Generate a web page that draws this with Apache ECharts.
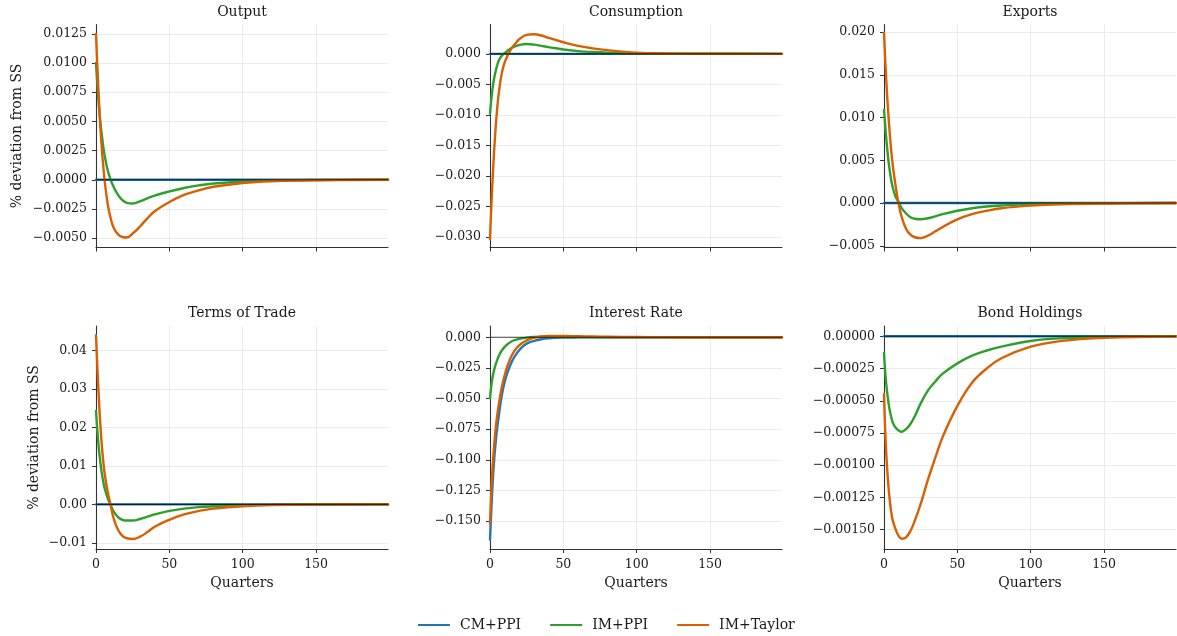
<!DOCTYPE html>
<html>
<head>
<meta charset="utf-8">
<script src="https://cdn.jsdelivr.net/npm/echarts@6/dist/echarts.min.js"></script>
<style>
  html, body { margin: 0; padding: 0; background: #ffffff; }
  #chart { width: 1177px; height: 636px; }
</style>
</head>
<body>
<div id="chart"></div>
<script>
// Impulse responses, % deviation from steady state, sampled by quarter
const quarters = [0, 1, 2, 3, 4, 5, 6, 8, 10, 12, 15, 18, 21, 25, 30, 35, 40, 50, 60, 70, 80, 100, 120, 150, 199];
const seriesNames = ['CM+PPI', 'IM+PPI', 'IM+Taylor'];
const panelTitles = ['Output', 'Consumption', 'Exports', 'Terms of Trade', 'Interest Rate', 'Bond Holdings'];
const xTicks = [0, 50, 100, 150];

const outputCM = [0, 0, 0, 0, 0, 0, 0, 0, 0, 0, 0, 0, 0, 0, 0, 0, 0, 0, 0, 0, 0, 0, 0, 0, 0];
const outputIM = [0.0100, 0.0080, 0.0063, 0.0049, 0.0038, 0.0028, 0.0020, 0.0008, 0.0000, -0.0006, -0.0013, -0.00175, -0.00198, -0.00203, -0.00185, -0.00159, -0.00135, -0.0010, -0.0007, -0.00048, -0.00032, -0.00015, -0.00007, -0.00002, 0];
const outputTaylor = [0.0125, 0.0095, 0.0068, 0.0045, 0.0026, 0.0011, -0.0002, -0.0021, -0.0033, -0.0041, -0.00467, -0.0049, -0.00494, -0.0046, -0.0040, -0.0033, -0.0027, -0.0019, -0.0013, -0.0009, -0.0006, -0.00027, -0.00012, -0.00004, 0];

const consCM = [0, 0, 0, 0, 0, 0, 0, 0, 0, 0, 0, 0, 0, 0, 0, 0, 0, 0, 0, 0, 0, 0, 0, 0, 0];
const consIM = [-0.0098, -0.0072, -0.0052, -0.0038, -0.0027, -0.0018, -0.0011, -0.0003, 0.0001, 0.0005, 0.0010, 0.0013, 0.0015, 0.0016, 0.0015, 0.0013, 0.0011, 0.0007, 0.00045, 0.0003, 0.0002, 0.00008, 0.00003, 0.00001, 0];
const consTaylor = [-0.0303, -0.0245, -0.0195, -0.0152, -0.0116, -0.0087, -0.0064, -0.0032, -0.0014, -0.0003, 0.0010, 0.0019, 0.0026, 0.0031, 0.0032, 0.0030, 0.0026, 0.0019, 0.0013, 0.0009, 0.0006, 0.0002, 0.00008, 0.00002, 0];

const exportsCM = [0, 0, 0, 0, 0, 0, 0, 0, 0, 0, 0, 0, 0, 0, 0, 0, 0, 0, 0, 0, 0, 0, 0, 0, 0];
const exportsIM = [0.0109, 0.0087, 0.0067, 0.0050, 0.0037, 0.0026, 0.0018, 0.0007, 0.0001, -0.0006, -0.0012, -0.00165, -0.00184, -0.0019, -0.00178, -0.00155, -0.0013, -0.0009, -0.0006, -0.0004, -0.00028, -0.00012, -0.00005, -0.00002, 0];
const exportsTaylor = [0.0199, 0.0162, 0.0130, 0.0103, 0.0080, 0.0060, 0.0044, 0.0019, -0.0001, -0.0016, -0.0030, -0.0037, -0.0040, -0.0041, -0.0038, -0.0033, -0.0028, -0.0019, -0.0013, -0.0009, -0.0006, -0.0003, -0.00014, -0.00005, 0];

const totCM = [0, 0, 0, 0, 0, 0, 0, 0, 0, 0, 0, 0, 0, 0, 0, 0, 0, 0, 0, 0, 0, 0, 0, 0, 0];
const totIM = [0.0243, 0.0188, 0.0143, 0.0108, 0.0080, 0.0058, 0.0040, 0.0016, -0.0002, -0.0018, -0.0033, -0.0040, -0.0042, -0.0042, -0.0038, -0.0032, -0.0026, -0.0017, -0.0011, -0.0007, -0.0005, -0.0002, -0.0001, -0.00003, 0];
const totTaylor = [0.0440, 0.0350, 0.0272, 0.0205, 0.0152, 0.0110, 0.0077, 0.0032, -0.0002, -0.0036, -0.0066, -0.0082, -0.0088, -0.0090, -0.0084, -0.0072, -0.0058, -0.0040, -0.0026, -0.0017, -0.0011, -0.0005, -0.0002, -0.00006, 0];

const rateCM = [-0.165, -0.138, -0.115, -0.0975, -0.084, -0.073, -0.064, -0.0475, -0.0365, -0.0285, -0.0195, -0.0135, -0.0090, -0.0052, -0.0030, -0.0016, -0.0009, -0.0003, -0.0001, 0, 0, 0, 0, 0, 0];
const rateIM = [-0.0496, -0.0385, -0.0310, -0.0258, -0.0218, -0.0183, -0.0153, -0.0108, -0.0078, -0.0056, -0.0032, -0.0019, -0.0010, -0.0003, 0.0002, 0.0004, 0.0004, 0.0003, 0.0002, 0.0001, 0.00005, 0, 0, 0, 0];
const rateTaylor = [-0.152, -0.122, -0.101, -0.086, -0.073, -0.063, -0.055, -0.041, -0.031, -0.023, -0.0145, -0.0090, -0.0055, -0.0025, -0.0003, 0.0006, 0.0010, 0.0010, 0.0008, 0.0006, 0.0004, 0.0002, 0.0001, 0, 0];

const bondsCM = [0, 0, 0, 0, 0, 0, 0, 0, 0, 0, 0, 0, 0, 0, 0, 0, 0, 0, 0, 0, 0, 0, 0, 0, 0];
const bondsIM = [-0.00013, -0.00030, -0.00042, -0.00051, -0.00058, -0.00063, -0.00067, -0.00071, -0.00073, -0.00074, -0.00072, -0.00068, -0.00062, -0.00052, -0.00042, -0.00035, -0.00029, -0.00021, -0.00015, -0.00011, -0.00008, -0.000036, -0.000016, -0.000005, 0];
const bondsTaylor = [-0.00045, -0.00078, -0.00100, -0.00116, -0.00128, -0.00137, -0.00143, -0.00150, -0.00155, -0.00157, -0.00156, -0.00151, -0.00143, -0.00130, -0.00111, -0.00094, -0.00078, -0.00054, -0.00036, -0.00025, -0.00017, -0.00008, -0.000037, -0.000012, -0.000002];

// y tick values per panel
const outputTicks = [-0.005, -0.0025, 0, 0.0025, 0.005, 0.0075, 0.01, 0.0125];
const consTicks = [-0.03, -0.025, -0.02, -0.015, -0.01, -0.005, 0];
const exportsTicks = [-0.005, 0, 0.005, 0.01, 0.015, 0.02];
const totTicks = [-0.01, 0, 0.01, 0.02, 0.03, 0.04];
const rateTicks = [-0.15, -0.125, -0.1, -0.075, -0.05, -0.025, 0];
const bondsTicks = [-0.0015, -0.00125, -0.001, -0.00075, -0.0005, -0.00025, 0];

const panels = [
  { series: [outputCM, outputIM, outputTaylor], ticks: outputTicks, decimals: 4, min: -0.0058, max: 0.0133 },
  { series: [consCM, consIM, consTaylor], ticks: consTicks, decimals: 3, min: -0.0317, max: 0.0048 },
  { series: [exportsCM, exportsIM, exportsTaylor], ticks: exportsTicks, decimals: 3, min: -0.0052, max: 0.0209 },
  { series: [totCM, totIM, totTaylor], ticks: totTicks, decimals: 2, min: -0.0116, max: 0.0464 },
  { series: [rateCM, rateIM, rateTaylor], ticks: rateTicks, decimals: 3, min: -0.1728, max: 0.0092 },
  { series: [bondsCM, bondsIM, bondsTaylor], ticks: bondsTicks, decimals: 5, min: -0.00165, max: 0.00008 }
];

const colors = ['#1f77b4', '#2ca02c', '#d95f02'];
const FONT = 'DejaVu Serif';
const TEXT = '#1a1a1a';
const X_MAX = 199;

const colLeft = [96, 490, 884];
const rowTop = [24.5, 326];
const plotW = 292;
const plotH = 223;

function fmt(v, d) {
  const s = Math.abs(v) < 1e-12 ? (0).toFixed(d) : v.toFixed(d);
  return s.replace('-', '\u2212');
}

const grid = [], xAxis = [], yAxis = [], series = [], title = [];

panels.forEach((p, i) => {
  const col = i % 3, row = Math.floor(i / 3);
  grid.push({ left: colLeft[col], top: rowTop[row], width: plotW, height: plotH, containLabel: false });

  title.push({
    text: panelTitles[i],
    left: colLeft[col] + plotW / 2,
    top: row === 0 ? 5 : 306,
    textAlign: 'center',
    padding: 0,
    textStyle: { fontFamily: FONT, fontSize: 14, fontWeight: 'normal', color: TEXT }
  });

  xAxis.push({
    type: 'value', gridIndex: i, min: 0, max: X_MAX,
    name: row === 1 ? 'Quarters' : '',
    nameLocation: 'middle', nameGap: 27,
    nameTextStyle: { fontFamily: FONT, fontSize: 14, color: TEXT },
    axisLine: { show: true, onZero: false, lineStyle: { color: '#333333', width: 1.1 } },
    axisTick: { show: true, inside: false, length: 4, customValues: xTicks, lineStyle: { color: '#333333', width: 1 } },
    axisLabel: { show: row === 1, customValues: xTicks, margin: 9, fontFamily: FONT, fontSize: 12.5, color: TEXT },
    splitLine: { show: true, lineStyle: { color: '#ebebeb', width: 1 } }
  });

  yAxis.push({
    type: 'value', gridIndex: i, min: p.min, max: p.max,
    name: col === 0 ? '% deviation from SS' : '',
    nameLocation: 'middle', nameRotate: 90,
    nameGap: i === 0 ? 72 : 55,
    nameTextStyle: { fontFamily: FONT, fontSize: 14, color: TEXT },
    axisLine: { show: true, onZero: false, lineStyle: { color: '#333333', width: 1.1 } },
    axisTick: { show: true, inside: false, length: 4, customValues: p.ticks, lineStyle: { color: '#333333', width: 1 } },
    axisLabel: {
      customValues: p.ticks, margin: 9, fontFamily: FONT, fontSize: 12.5, color: TEXT,
      formatter: (v) => fmt(v, p.decimals)
    },
    splitLine: { show: true, lineStyle: { color: '#ebebeb', width: 1 } }
  });

  p.series.forEach((vals, k) => {
    series.push({
      name: seriesNames[k], type: 'line', xAxisIndex: i, yAxisIndex: i,
      data: quarters.map((q, j) => [q, vals[j]]),
      showSymbol: false, symbol: 'none',
      smooth: 0.4,
      lineStyle: { color: colors[k], width: 2.4, cap: 'round', join: 'round' },
      itemStyle: { color: colors[k] },
      z: 3 + k, silent: true, animation: false
    });
  });

  // steady-state reference line
  series.push({
    type: 'line', xAxisIndex: i, yAxisIndex: i,
    data: [[0, 0], [X_MAX, 0]],
    showSymbol: false, symbol: 'none',
    lineStyle: { color: 'rgba(0,0,0,0.72)', width: 1.1 },
    z: 10, silent: true, animation: false
  });
});

const chart = echarts.init(document.getElementById('chart'), null, { renderer: 'canvas' });
chart.setOption({
  backgroundColor: '#ffffff',
  animation: false,
  title,
  grid, xAxis, yAxis, series,
  legend: {
    data: seriesNames,
    left: 413, top: 613,
    icon: 'rect', itemWidth: 32, itemHeight: 2,
    itemGap: 29,
    textStyle: { fontFamily: FONT, fontSize: 14, color: TEXT, padding: [0, 0, 0, 5] }
  }
});
</script>
</body>
</html>
